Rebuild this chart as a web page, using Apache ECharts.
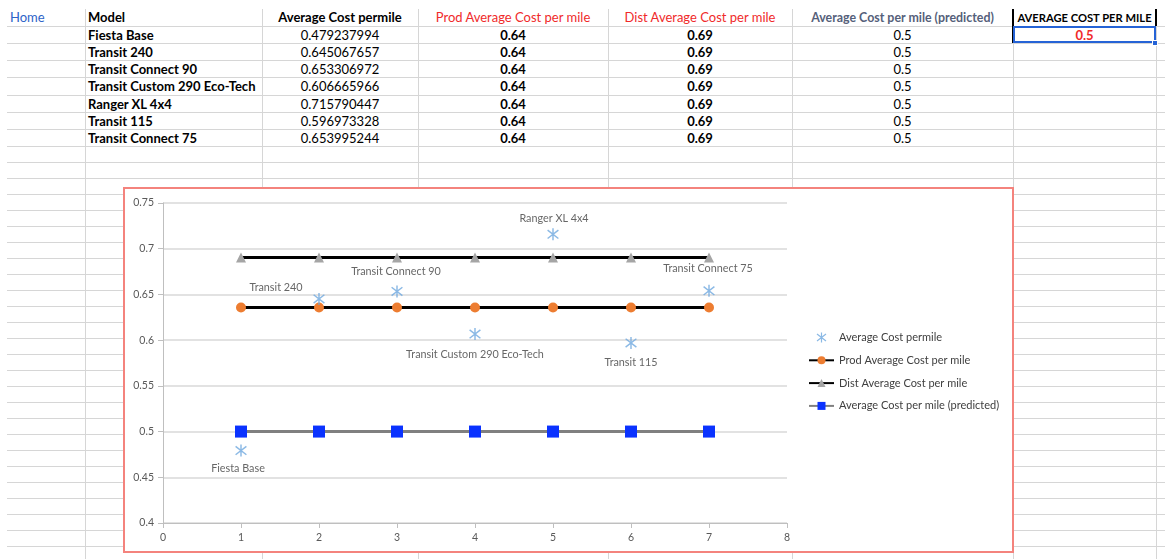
<!DOCTYPE html>
<html>
<head>
<meta charset="utf-8">
<script src="https://cdn.jsdelivr.net/npm/echarts@6/dist/echarts.min.js"></script>
<style>
body{margin:0;width:1165px;height:559px;overflow:hidden;background:#fff;font-family:Lato,'Open Sans',sans-serif;position:relative}
.hl{position:absolute;left:7px;right:0;height:1px;background:#d6d6d6}
.vl{position:absolute;top:9px;bottom:0;width:1px;background:#d6d6d6}
.cell{position:absolute;font-size:13px;line-height:17px;height:17px;white-space:nowrap;color:#000;overflow:hidden}
#box{position:absolute;left:123px;top:187px;width:887px;height:362px;border:2px solid #f4837d;background:#fff}
#chart{width:100%;height:100%}
</style>
</head>
<body>
<div id="sheet"></div>
<div id="box"><div id="chart"></div></div>
<script>
// sheet values
var models = ['Fiesta Base', 'Transit 240', 'Transit Connect 90', 'Transit Custom 290 Eco-Tech', 'Ranger XL 4x4', 'Transit 115', 'Transit Connect 75'];
var avgCost = [0.479237994, 0.645067657, 0.653306972, 0.606665966, 0.715790447, 0.596973328, 0.653995244];
var prodCost = [0.6357, 0.6357, 0.6357, 0.6357, 0.6357, 0.6357, 0.6357];
var distCost = [0.6905, 0.6905, 0.6905, 0.6905, 0.6905, 0.6905, 0.6905];
var predicted = [0.5, 0.5, 0.5, 0.5, 0.5, 0.5, 0.5];
var xPos = [1, 2, 3, 4, 5, 6, 7];
var headers = ['Model', 'Average Cost permile', 'Prod Average Cost per mile', 'Dist Average Cost per mile', 'Average Cost per mile (predicted)', 'AVERAGE COST PER MILE'];
var selectedValue = '0.5';

// grid of the sheet
var sheet = document.getElementById('sheet');
var colX = [85, 262, 418, 608, 792, 1013, 1156];
var rowY = [];
for (var i = 0; i < 8; i++) rowY.push(Math.round(26 + i * 17.14));
for (var y = 162; y < 559; y += 16) rowY.push(y);

function add(cls, css, text) {
	var d = document.createElement('div');
	d.className = cls;
	d.style.cssText = css;
	if (text !== undefined) d.textContent = text;
	sheet.appendChild(d);
	return d;
}
rowY.forEach(function(y) { add('hl', 'top:' + y + 'px'); });
colX.forEach(function(x) { add('vl', 'left:' + x + 'px'); });

function cell(col, top, text, css) {
	var l = colX[col - 1], w = colX[col] - l;
	add('cell', 'left:' + l + 'px;width:' + w + 'px;top:' + top + 'px;' + (css || ''), text);
}
add('cell', 'left:10px;top:9px;color:#2d63c8', 'Home');
cell(1, 9, headers[0], 'font-weight:bold;padding-left:3px');
cell(2, 9, headers[1], 'font-weight:bold;text-align:center');
cell(3, 9, headers[2], 'color:#f02a2a;text-align:center');
cell(4, 9, headers[3], 'color:#f02a2a;text-align:center');
cell(5, 9, headers[4], 'font-weight:bold;color:#55607a;text-align:center;font-size:12.4px');
cell(6, 9, headers[5], 'font-weight:bold;text-align:center;font-size:11.2px');
for (var r = 0; r < models.length; r++) {
	var t = rowY[r] + 0.5;
	cell(1, t, models[r], 'font-weight:bold;padding-left:3px');
	cell(2, t, String(avgCost[r]), 'text-align:center');
	cell(3, t, prodCost[r].toFixed(2), 'font-weight:bold;text-align:center');
	cell(4, t, distCost[r].toFixed(2), 'font-weight:bold;text-align:center');
	cell(5, t, String(predicted[r]), 'text-align:center');
}
cell(6, 26.5, selectedValue, 'font-weight:bold;color:#f02a2a;text-align:center');
// header borders and selection
add('', 'position:absolute;left:1012px;top:9px;width:2px;height:34px;background:#000');
add('', 'position:absolute;left:1155px;top:9px;width:2px;height:17px;background:#000');
add('', 'position:absolute;left:1013px;top:26px;width:139px;height:13px;border:2px solid #2563d6');
add('', 'position:absolute;left:1152px;top:40px;width:4px;height:4px;background:#2563d6;border:1px solid #fff');

// chart
var asterisk = 'path://M4.4 0L5.6 0L5.6 10L4.4 10Z M0.87 1.03L9.87 8.03L9.13 8.97L0.13 1.97Z M0.13 8.03L9.13 1.03L9.87 1.97L0.87 8.97Z';
var labelOffsets = [[-3, 18], [-43, -11], [-1, -20], [0, 20], [1, -16], [0, 20], [-1, -22]];

function pairs(vals) {
	return vals.map(function(v, i) { return [xPos[i], v]; });
}

var scatterData = avgCost.map(function(v, i) {
	return {
		name: models[i],
		value: [xPos[i], v],
		label: { offset: labelOffsets[i] }
	};
});

var myChart = echarts.init(document.getElementById('chart'));
myChart.setOption({
	animation: false,
	textStyle: { fontFamily: 'Lato' },
	grid: { left: 38, top: 14, width: 624, height: 320 },
	xAxis: {
		type: 'value',
		min: 0,
		max: 8,
		interval: 1,
		axisLine: { lineStyle: { color: '#bfbfbf', width: 1 } },
		axisTick: { length: 5, lineStyle: { color: '#bfbfbf' } },
		axisLabel: { color: '#595959', fontSize: 10.5, margin: 9 },
		splitLine: { show: false }
	},
	yAxis: {
		type: 'value',
		min: 0.4,
		max: 0.75,
		interval: 0.05,
		axisLine: { show: true, lineStyle: { color: '#bfbfbf', width: 1 } },
		axisTick: { show: true, length: 5, lineStyle: { color: '#bfbfbf' } },
		axisLabel: {
			color: '#595959',
			fontSize: 10.5,
			margin: 9,
			formatter: function(v) { return String(+v.toFixed(2)); }
		},
		splitLine: { lineStyle: { color: '#d9d9d9', width: 1.5 } }
	},
	legend: {
		orient: 'vertical',
		left: 683,
		top: 143,
		padding: 0,
		itemWidth: 25,
		itemHeight: 10,
		itemGap: 11.8,
		textStyle: { color: '#404040', fontSize: 11 },
		data: ['Average Cost permile', 'Prod Average Cost per mile', 'Dist Average Cost per mile', 'Average Cost per mile (predicted)']
	},
	series: [{
		name: 'Average Cost permile',
		type: 'scatter',
		data: scatterData,
		symbol: asterisk,
		symbolSize: 12,
		symbolKeepAspect: true,
		itemStyle: { color: '#6ea8de' },
		label: {
			show: true,
			position: 'inside',
			formatter: '{b}',
			color: '#404040',
			fontSize: 10.8
		},
		z: 3
	}, {
		name: 'Prod Average Cost per mile',
		type: 'line',
		data: pairs(prodCost),
		symbol: 'circle',
		symbolSize: 10,
		itemStyle: { color: '#ed7d31' },
		lineStyle: { color: '#000', width: 3 },
		z: 2
	}, {
		name: 'Dist Average Cost per mile',
		type: 'line',
		data: pairs(distCost),
		symbol: 'triangle',
		symbolSize: 10,
		itemStyle: { color: '#a5a5a5' },
		lineStyle: { color: '#000', width: 3 },
		z: 2
	}, {
		name: 'Average Cost per mile (predicted)',
		type: 'line',
		data: pairs(predicted),
		symbol: 'rect',
		symbolSize: 12,
		itemStyle: { color: '#0a32ff' },
		lineStyle: { color: '#808080', width: 3 },
		z: 2
	}]
});
</script>
</body>
</html>
